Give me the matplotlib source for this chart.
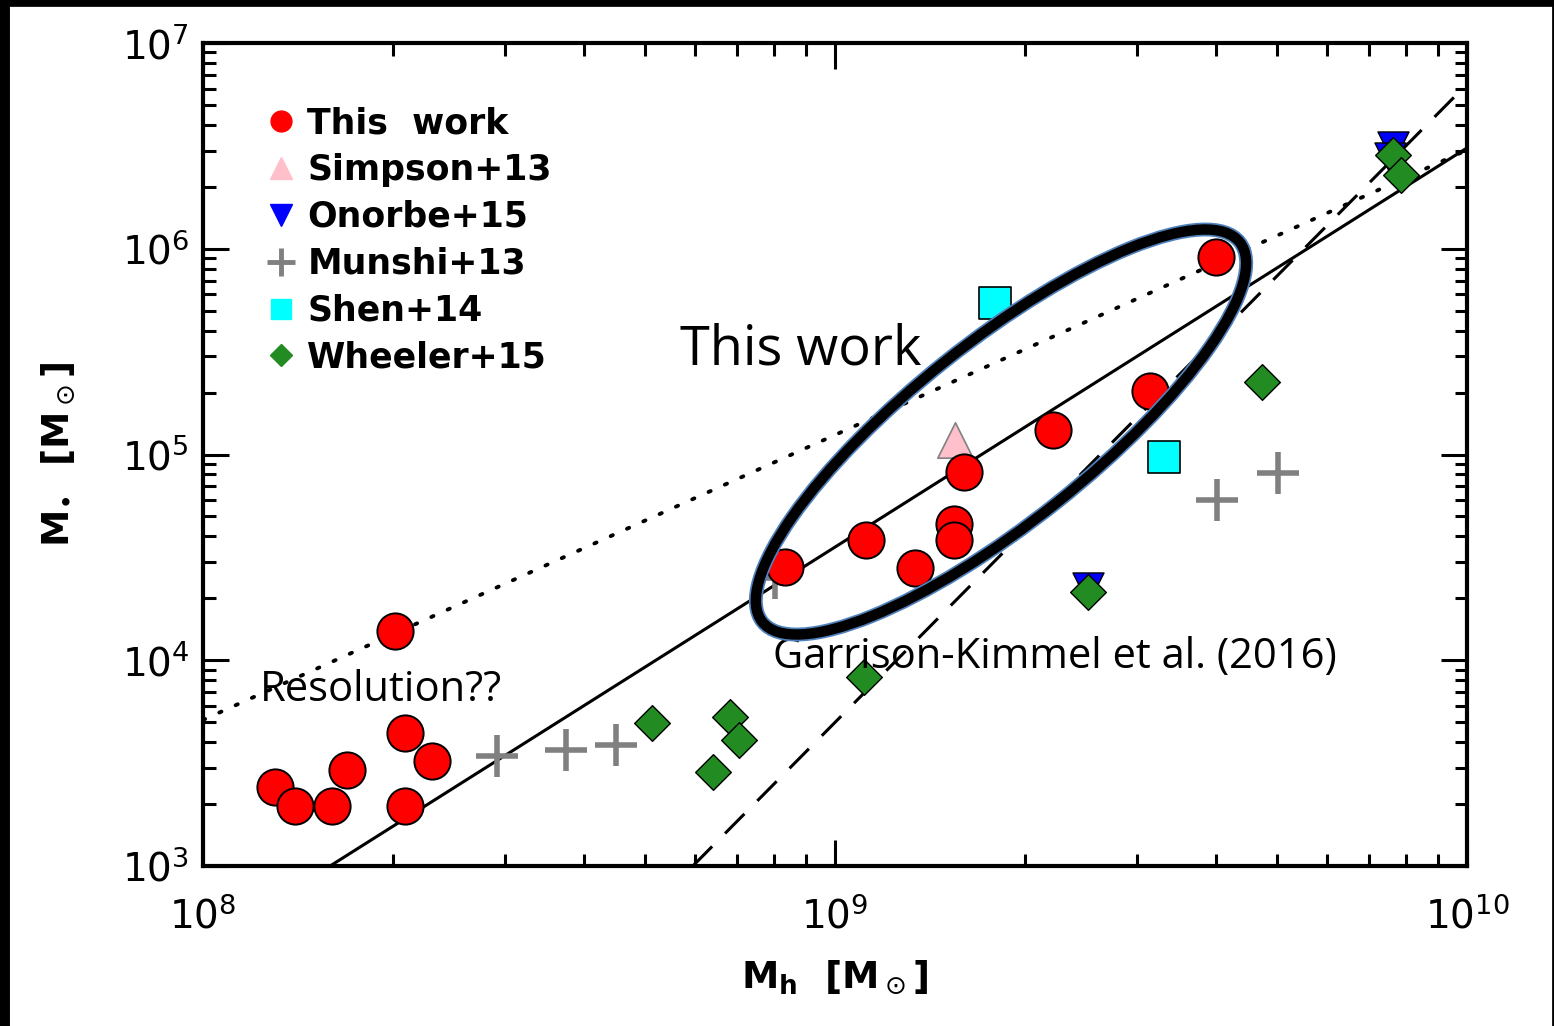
import numpy as np
import matplotlib
matplotlib.use("Agg")
import matplotlib.pyplot as plt
from matplotlib.patches import Ellipse
from matplotlib.lines import Line2D

# data
this_mh = [1.30e8, 1.40e8, 1.60e8, 1.69e8, 2.01e8, 2.09e8, 2.09e8, 2.30e8,
           8.33e8, 1.12e9, 1.34e9, 1.54e9, 1.54e9, 1.60e9, 2.21e9, 3.15e9, 4.01e9]
this_ms = [2.42e3, 1.96e3, 1.96e3, 2.93e3, 1.39e4, 4.43e3, 1.96e3, 3.24e3,
           2.84e4, 3.84e4, 2.81e4, 4.59e4, 3.84e4, 8.22e4, 1.31e5, 2.04e5, 9.12e5]

simpson_mh = [1.55e9]
simpson_ms = [1.17e5]

onorbe_mh = [7.64e9, 7.55e9, 2.51e9]
onorbe_ms = [3.13e6, 2.75e6, 2.24e4]

munshi_mh = [2.92e8, 3.75e8, 4.50e8, 8.04e8, 4.02e9, 5.02e9]
munshi_ms = [3.43e3, 3.66e3, 3.87e3, 2.51e4, 6.01e4, 8.13e4]

shen_mh = [1.79e9, 3.32e9]
shen_ms = [5.45e5, 9.72e4]

wheeler_mh = [7.64e9, 7.87e9, 4.74e9, 2.51e9, 1.11e9, 5.13e8, 6.82e8, 7.05e8, 6.41e8]
wheeler_ms = [2.86e6, 2.28e6, 2.25e5, 2.15e4, 8.30e3, 4.95e3, 5.30e3, 4.09e3, 2.87e3]

# relations (log M* at log Mh = 8 and 10)
solid_ends = [2.61, 6.49]
dotted_ends = [3.71, 6.48]
dashed_ends = [3.0, 6.80]   # starts at log Mh = 8.775
dashed_start = 8.775

plt.rcParams['font.family'] = ['DejaVu Sans']
plt.rcParams['mathtext.fontset'] = 'dejavusans'

fig = plt.figure(figsize=(15.54, 10.26), dpi=100)
ax = fig.add_axes([203/1554, 1 - 866/1026, (1467-203)/1554, (866-43)/1026])
ax.set_xscale('log')
ax.set_yscale('log')
ax.set_xlim(1e8, 1e10)
ax.set_ylim(1e3, 1e7)

x = np.array([1e8, 1e10])
ax.plot(x, 10**np.array(solid_ends), color='black', lw=2.2, zorder=2)
ax.plot(x, 10**np.array(dotted_ends), color='black', lw=2.8, ls=(0, (0.6, 4.0)),
        dash_capstyle='round', zorder=2)
ax.plot([10**dashed_start, 1e10], 10**np.array(dashed_ends), color='black', lw=2.2,
        ls=(0, (9, 6)), zorder=2)

ax.scatter(munshi_mh, munshi_ms, marker='+', s=900, color='gray', linewidths=4, zorder=3)
ax.scatter(onorbe_mh, onorbe_ms, marker='v', s=500, color='blue', edgecolors='black',
           linewidths=1, zorder=3)
ax.scatter(wheeler_mh, wheeler_ms, marker='D', s=330, color='forestgreen',
           edgecolors='black', linewidths=1, zorder=4)
ax.scatter(shen_mh, shen_ms, marker='s', s=500, color='cyan', edgecolors='black',
           linewidths=1.2, zorder=4)
ax.scatter(simpson_mh, simpson_ms, marker='^', s=650, color='pink', edgecolors='gray',
           linewidths=1.2, zorder=4)
ax.scatter(this_mh, this_ms, marker='o', s=680, color='red', edgecolors='black',
           linewidths=1.4, zorder=5)

# legend
handles = [
    Line2D([], [], ls='none', marker='o', ms=15, color='red'),
    Line2D([], [], ls='none', marker='^', ms=16, color='pink'),
    Line2D([], [], ls='none', marker='v', ms=16, color='blue'),
    Line2D([], [], ls='none', marker='+', ms=20, mew=3.5, color='gray'),
    Line2D([], [], ls='none', marker='s', ms=14, color='cyan'),
    Line2D([], [], ls='none', marker='D', ms=11, color='forestgreen'),
]
labels = ['This  work', 'Simpson+13', 'Onorbe+15', 'Munshi+13', 'Shen+14', 'Wheeler+15']
ax.legend(handles, labels, loc='upper left', bbox_to_anchor=(0.04, 0.94), frameon=False,
          prop={'size': 25, 'weight': 'semibold'}, handlelength=0.8, handletextpad=0.35,
          labelspacing=0.37, borderaxespad=0)

ax.tick_params(which='both', direction='in', top=True, right=True, width=2.2)
ax.tick_params(which='major', length=19, labelsize=28, pad=10)
ax.tick_params(which='minor', length=9)
ax.tick_params(axis='x', which='major', pad=22)
for s in ax.spines.values():
    s.set_linewidth(3)

ax.set_xlabel(r'M$_\mathbf{h}$  [M$_\odot$]', fontsize=27, fontweight='bold', labelpad=16)
ax.set_ylabel(r'M$_{\bullet}$  [M$_\odot$]', fontsize=27, fontweight='bold', labelpad=32)

# annotations
fig.text(680/1554, 1 - 350/1026, 'This work', fontsize=39, va='center', ha='left',
         family='Open Sans')
fig.text(773/1554, 1 - 657/1026, 'Garrison-Kimmel et al. (2016)', fontsize=30,
         va='center', ha='left', family='Open Sans')
fig.text(260/1554, 1 - 690/1026, 'Resolution??', fontsize=30, va='center', ha='left',
         family='Open Sans')

# highlighted ellipse
for lw, col in [(10, '#4f81bd'), (7.5, 'black')]:
    e = Ellipse((10.01, 10.26 - 4.32), 6.10, 1.80, angle=38.5, fill=False, lw=lw, ec=col,
                transform=fig.dpi_scale_trans, zorder=10)
    fig.add_artist(e)

# black frame around the picture
fig.add_artist(Line2D([0.002, 0.002], [0, 1], transform=fig.transFigure, color='black', lw=10))
fig.add_artist(Line2D([0, 1], [0.998, 0.998], transform=fig.transFigure, color='black', lw=7))
fig.add_artist(Line2D([0.9995, 0.9995], [0, 1], transform=fig.transFigure, color='black', lw=2))

fig.savefig('out.png', dpi=100)
